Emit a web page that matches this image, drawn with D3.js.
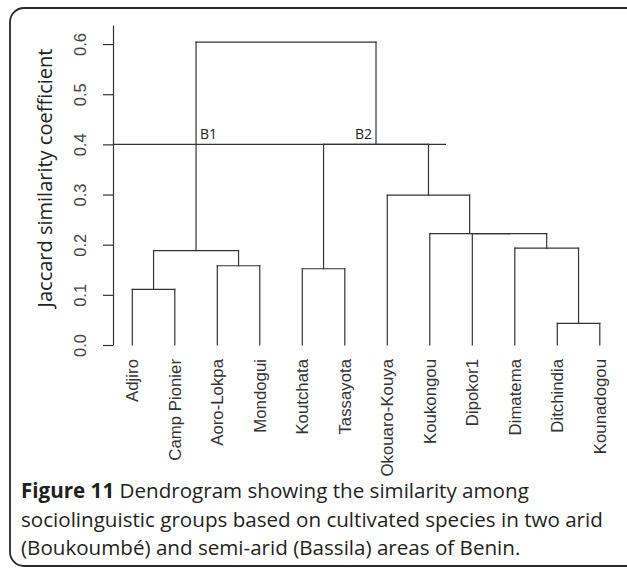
<!DOCTYPE html>
<html>
<head>
<meta charset="utf-8">
<script src="https://cdn.jsdelivr.net/npm/d3@7"></script>
<style>
  html, body { margin: 0; padding: 0; background: #fff; }
  svg { display: block; }
</style>
</head>
<body>
<svg id="chart" width="627" height="568"></svg>
<script>
// ---------- data ----------
const leaves = ["Adjiro", "Camp Pionier", "Aoro-Lokpa", "Mondogui", "Koutchata", "Tassayota",
                "Okouaro-Kouya", "Koukongou", "Dipokor1", "Dimatema", "Ditchindia", "Kounadogou"];
// merge pairs (R hclust convention: negative = leaf number, positive = earlier merge)
const mergeLeft  = [-11, -1, -5, -3, 2, -10, -9, -8, -7, 3, 5];
const mergeRight = [-12, -2, -6, -4, 4, 1, 6, 7, 8, 9, 10];
const mergeHeight = [0.043, 0.111, 0.152, 0.158, 0.188, 0.193, 0.222, 0.222, 0.299, 0.400, 0.604];
const tickValues = [0.0, 0.1, 0.2, 0.3, 0.4, 0.5, 0.6];
const cutHeight = 0.4;
const groupLabels = ["B1", "B2"];
const yTitle = "Jaccard similarity coefficient";
const captionBold = "Figure 11";
const captionLines = [" Dendrogram showing the similarity among",
                      "sociolinguistic groups based on cultivated species in two arid",
                      "(Boukoumbé) and semi-arid (Bassila) areas of Benin."];

// ---------- layout ----------
const svg = d3.select("#chart");
const ink = "#333";

// frame
svg.append("rect")
  .attr("x", 10).attr("y", 8).attr("width", 632).attr("height", 558)
  .attr("rx", 14).attr("ry", 14)
  .attr("fill", "none").attr("stroke", "#2a2a2a").attr("stroke-width", 1.8);

const x = d3.scaleLinear().domain([0, leaves.length - 1]).range([132.3, 599.8]);
const y = d3.scaleLinear().domain([0, 0.638]).range([345, 25]);

// axis
const axisG = svg.append("g").attr("transform", "translate(113,0)")
  .call(d3.axisLeft(y).tickValues(tickValues).tickSize(10).tickSizeOuter(0)
          .tickFormat(d3.format(".1f")));
axisG.select(".domain").attr("stroke", ink).attr("stroke-width", 1.2);
axisG.selectAll(".tick line").attr("stroke", ink).attr("stroke-width", 1.2);
axisG.selectAll(".tick text")
  .attr("x", null).attr("dy", null)
  .attr("transform", "translate(-33,0) rotate(-90)")
  .attr("text-anchor", "middle")
  .attr("dy", "0.36em")
  .attr("fill", "#444")
  .style("font-family", "'Liberation Sans', Arial, sans-serif")
  .style("font-size", "16.5px");

// y title
svg.append("text")
  .attr("transform", `translate(45,${178}) rotate(-90)`)
  .attr("text-anchor", "middle").attr("dy", "0.36em")
  .attr("fill", "#222")
  .style("font-family", "'Open Sans', sans-serif").style("font-size", "20px")
  .text(yTitle);

// dendrogram geometry
const nodeX = [], nodeH = [];
function childPos(c) {
  if (c < 0) return { x: x(-c - 1), h: 0 };
  return { x: nodeX[c - 1], h: nodeH[c - 1] };
}
const segs = [];
mergeLeft.forEach((l, i) => {
  const a = childPos(l), b = childPos(mergeRight[i]);
  const h = mergeHeight[i];
  nodeX.push((a.x + b.x) / 2); nodeH.push(h);
  segs.push([a.x, a.h, a.x, h]);
  segs.push([b.x, b.h, b.x, h]);
  segs.push([a.x, h, b.x, h]);
});
svg.append("g").selectAll("line").data(segs).join("line")
  .attr("x1", d => d[0]).attr("y1", d => y(d[1]))
  .attr("x2", d => d[2]).attr("y2", d => y(d[3]))
  .attr("stroke", ink).attr("stroke-width", 1.2).attr("stroke-linecap", "square");

// cut line
svg.append("line")
  .attr("x1", 113).attr("x2", 446).attr("y1", y(cutHeight)).attr("y2", y(cutHeight))
  .attr("stroke", ink).attr("stroke-width", 1.2);

// group labels
const b1x = nodeX[4], b2x = nodeX[9];
svg.append("text").attr("x", b1x + 4).attr("y", y(cutHeight) - 5)
  .attr("fill", "#222").style("font-family", "'Open Sans', sans-serif").style("font-size", "14px")
  .text(groupLabels[0]);
svg.append("text").attr("x", b2x - 4).attr("y", y(cutHeight) - 5).attr("text-anchor", "end")
  .attr("fill", "#222").style("font-family", "'Open Sans', sans-serif").style("font-size", "14px")
  .text(groupLabels[1]);

// leaf labels
svg.append("g").selectAll("text").data(leaves).join("text")
  .attr("transform", (d, i) => `translate(${x(i)},359) rotate(-90)`)
  .attr("text-anchor", "end").attr("dy", "0.36em")
  .attr("fill", "#333")
  .style("font-family", "'Liberation Sans', Arial, sans-serif").style("font-size", "16.8px")
  .text(d => d);

// caption
const cap = svg.append("g").attr("fill", "#231f20")
  .style("font-family", "'Open Sans', sans-serif").style("font-size", "20.6px");
const t0 = cap.append("text").attr("x", 21).attr("y", 498);
t0.append("tspan").style("font-weight", "bold").text(captionBold);
t0.append("tspan").text(captionLines[0]);
cap.append("text").attr("x", 21).attr("y", 527).text(captionLines[1]);
cap.append("text").attr("x", 21).attr("y", 555).text(captionLines[2]);
</script>
</body>
</html>
